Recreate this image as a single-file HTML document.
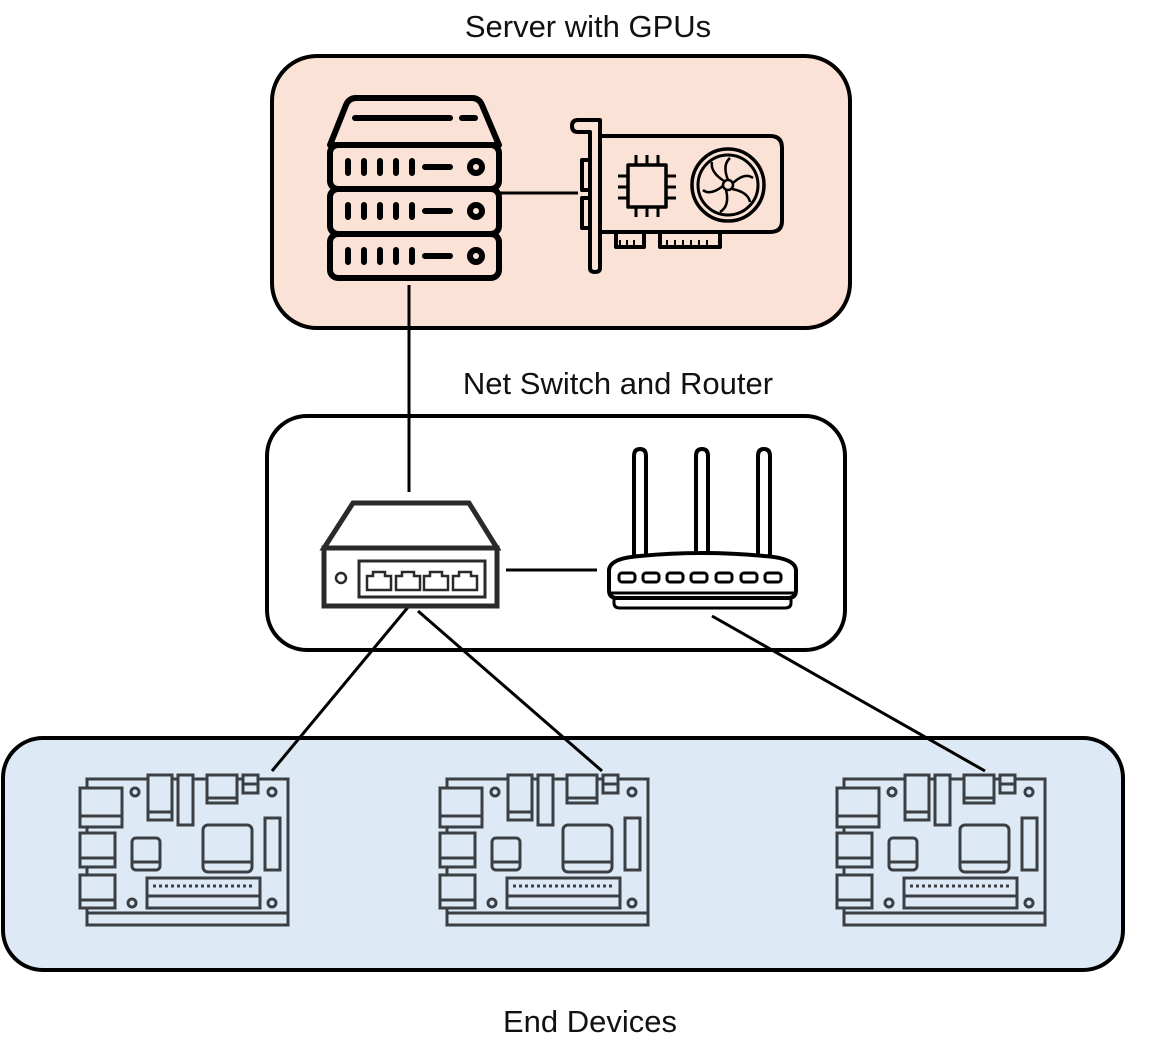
<!DOCTYPE html>
<html><head><meta charset="utf-8"><style>
html,body{margin:0;padding:0;background:#fff;}
svg{display:block;}
text{font-family:"Liberation Sans",sans-serif;font-size:31px;fill:#111;}
</style></head><body>
<svg width="1163" height="1062" viewBox="0 0 1163 1062" xmlns="http://www.w3.org/2000/svg">
<defs>
<g id="board" fill="none" stroke="#3b3f44" stroke-width="3">
  <path d="M27 29 H228 V175 H27 Z"/>
  <line x1="27" y1="163" x2="228" y2="163"/>
  <rect x="20" y="38" width="42" height="39" fill="#dde9f5"/>
  <line x1="20" y1="66" x2="62" y2="66"/>
  <rect x="20" y="83" width="35" height="34" fill="#dde9f5"/>
  <line x1="20" y1="108" x2="55" y2="108"/>
  <rect x="20" y="125" width="35" height="33" fill="#dde9f5"/>
  <line x1="20" y1="150" x2="55" y2="150"/>
  <circle cx="75" cy="42" r="4"/><circle cx="212" cy="42" r="4"/>
  <circle cx="72" cy="153" r="4"/><circle cx="212" cy="153" r="4"/>
  <rect x="88" y="25" width="24" height="45" fill="#dde9f5"/>
  <line x1="88" y1="62" x2="112" y2="62"/>
  <rect x="118" y="25" width="15" height="50" fill="#dde9f5"/>
  <rect x="147" y="25" width="30" height="28" fill="#dde9f5"/>
  <line x1="147" y1="48" x2="177" y2="48"/>
  <rect x="183" y="25" width="15" height="18" fill="#dde9f5"/>
  <line x1="183" y1="34" x2="198" y2="34"/>
  <rect x="72" y="88" width="28" height="32" rx="4"/>
  <line x1="72" y1="112" x2="100" y2="112"/>
  <rect x="143" y="75" width="49" height="47" rx="5"/>
  <line x1="143" y1="112" x2="192" y2="112"/>
  <rect x="205" y="68" width="15" height="52"/>
  <rect x="87" y="128" width="113" height="30"/>
  <line x1="93" y1="136" x2="195" y2="136" stroke-dasharray="3 3"/>
  <line x1="87" y1="146" x2="200" y2="146"/>
</g>
</defs>

<text x="588" y="37" text-anchor="middle">Server with GPUs</text>
<rect x="272" y="56" width="578" height="272" rx="45" fill="#fae3d6" stroke="#000" stroke-width="4"/>

<text x="618" y="394" text-anchor="middle">Net Switch and Router</text>
<rect x="267" y="416" width="578" height="234" rx="40" fill="#fff" stroke="#000" stroke-width="4"/>

<rect x="3" y="738" width="1120" height="232" rx="40" fill="#dde9f5" stroke="#000" stroke-width="4"/>
<text x="590" y="1032" text-anchor="middle">End Devices</text>

<!-- server -->
<g fill="none" stroke="#000" stroke-width="6" stroke-linecap="round" stroke-linejoin="round">
  <path d="M330 145 L346 105 Q349 98 356 98 H472 Q479 98 482 105 L499 145 Z"/>
  <line x1="355" y1="118" x2="450" y2="118"/><line x1="462" y1="118" x2="475" y2="118"/>
  <rect x="330" y="145" width="169" height="44" rx="8"/>
  <rect x="330" y="189" width="169" height="45" rx="8"/>
  <rect x="330" y="234" width="169" height="44" rx="8"/>
  <g>
    <path d="M348 161v12M364 161v12M380 161v12M396 161v12M412 161v12M425 167h25"/>
    <circle cx="476" cy="167" r="6"/>
    <path d="M348 205v12M364 205v12M380 205v12M396 205v12M412 205v12M425 211h25"/>
    <circle cx="476" cy="211" r="6"/>
    <path d="M348 250v12M364 250v12M380 250v12M396 250v12M412 250v12M425 256h25"/>
    <circle cx="476" cy="256" r="6"/>
  </g>
</g>
<line x1="500" y1="193" x2="578" y2="193" stroke="#000" stroke-width="3"/>
<!-- GPU -->
<g fill="none" stroke="#000" stroke-width="4" stroke-linejoin="round">
  <path d="M600 120 H578 Q572 120 572 126 Q572 132 578 132 H590 V268 Q590 272 595 272 Q600 272 600 268 Z"/>
  <rect x="582" y="160" width="8" height="30"/><rect x="582" y="198" width="8" height="30"/>
  <path d="M600 136 H770 Q782 136 782 148 V221 Q782 232 770 232 H600"/>
  <rect x="616" y="232" width="28" height="15"/><rect x="660" y="232" width="60" height="15"/>
  <path d="M620 240v6M627 240v6M634 240v6M667 240v6M675 240v6M683 240v6M691 240v6M699 240v6M707 240v6" stroke-width="2"/>
  <rect x="628" y="165" width="38" height="42" stroke-width="3.5"/>
  <path d="M636 155v10M647 155v10M658 155v10M636 207v10M647 207v10M658 207v10M618 176h10M618 187h10M618 198h10M666 176h10M666 187h10M666 198h10" stroke-width="3"/>
  <circle cx="728" cy="185" r="36" stroke-width="3.5"/>
  <circle cx="728" cy="185" r="30" stroke-width="3"/>
  <circle cx="728" cy="185" r="5" stroke-width="2.5"/>
  <g stroke-width="2.5">
    <path d="M728 180 Q722 165 730 158"/>
    <path d="M733 183 Q745 172 753 178"/>
    <path d="M732 189 Q748 192 750 202"/>
    <path d="M726 190 Q730 206 720 212"/>
    <path d="M723 186 Q710 196 703 190"/>
    <path d="M724 181 Q710 172 712 162"/>
  </g>
</g>

<!-- connectors -->
<g stroke="#000" stroke-width="3" fill="none">
  <line x1="409" y1="285" x2="409" y2="492"/>
  <line x1="506" y1="570" x2="597" y2="570"/>
  <line x1="409" y1="606" x2="272" y2="771"/>
  <line x1="418" y1="611" x2="602" y2="771"/>
  <line x1="712" y1="616" x2="985" y2="771"/>
</g>

<!-- switch -->
<g fill="none" stroke="#2a2a2a" stroke-width="5" stroke-linejoin="miter">
  <path d="M324 548 L353 503 H469 L497 548 Z"/>
  <rect x="324" y="548" width="173" height="58"/>
  <rect x="359" y="561" width="126" height="36" stroke-width="3"/>
  <circle cx="341" cy="578" r="5" stroke-width="2.5"/>
  <g stroke-width="2.5">
    <path d="M367 590 V576 H373 V572 H385 V576 H391 V590 Z"/>
    <path d="M396 590 V576 H402 V572 H414 V576 H420 V590 Z"/>
    <path d="M424 590 V576 H430 V572 H442 V576 H448 V590 Z"/>
    <path d="M453 590 V576 H459 V572 H471 V576 H477 V590 Z"/>
  </g>
</g>

<!-- router -->
<g fill="none" stroke="#000" stroke-width="4" stroke-linejoin="round">
  <path d="M634 556 V456 Q634 449 640 449 Q646 449 646 456 V556"/>
  <path d="M696 552 V456 Q696 449 702 449 Q708 449 708 456 V552"/>
  <path d="M758 556 V456 Q758 449 764 449 Q770 449 770 456 V556"/>
  <path d="M609 570 Q610 558 640 556 Q702 550 764 556 Q795 558 796 570 V590 Q796 598 788 598 H617 Q609 598 609 590 Z"/>
  <line x1="609" y1="593" x2="796" y2="593" stroke-width="3"/>
  <path d="M614 598 V603 Q614 608 620 608 H785 Q791 608 791 603 V598" stroke-width="3"/>
  <g stroke-width="3">
    <rect x="619" y="573" width="16" height="9" rx="3"/>
    <rect x="643" y="573" width="16" height="9" rx="3"/>
    <rect x="667" y="573" width="16" height="9" rx="3"/>
    <rect x="691" y="573" width="16" height="9" rx="3"/>
    <rect x="716" y="573" width="16" height="9" rx="3"/>
    <rect x="741" y="573" width="16" height="9" rx="3"/>
    <rect x="765" y="573" width="16" height="9" rx="3"/>
  </g>
</g>

<!-- boards -->
<use href="#board" transform="translate(60,750)"/>
<use href="#board" transform="translate(420,750)"/>
<use href="#board" transform="translate(817,750)"/>
</svg>
</body></html>
